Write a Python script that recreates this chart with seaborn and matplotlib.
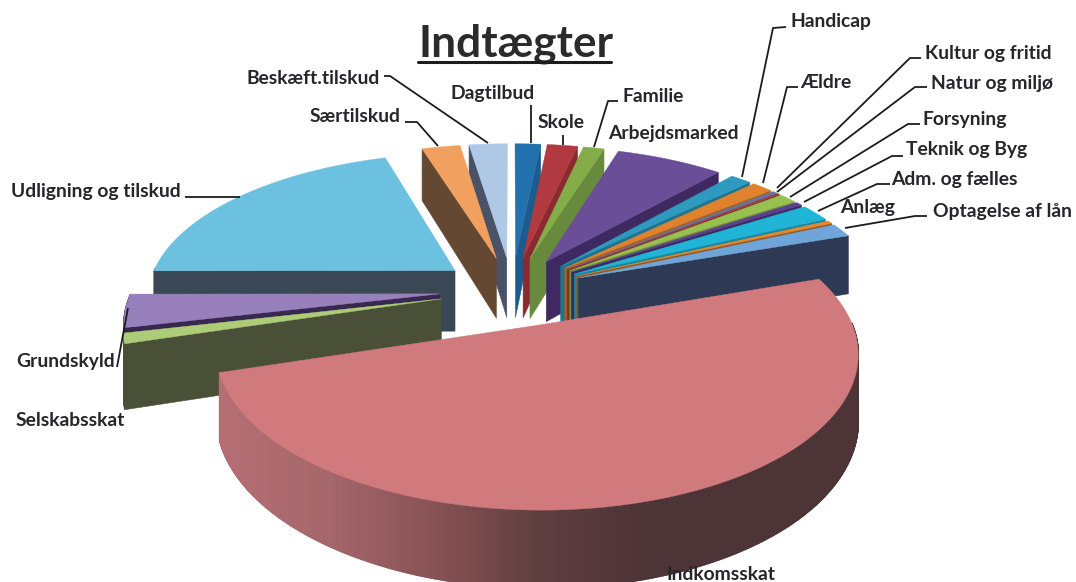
import numpy as np
import matplotlib
matplotlib.use("Agg")
import matplotlib.pyplot as plt
import seaborn as sns

# Slices, clockwise from 12 o'clock (percent of total)
categories = ["Dagtilbud", "Skole", "Familie", "Arbejdsmarked", "Handicap", "Ældre",
              "Kultur og fritid", "Natur og miljø", "Forsyning", "Teknik og Byg",
              "Adm. og fælles", "Anlæg", "Optagelse af lån", "Indkomsskat",
              "Selskabsskat", "Grundskyld", "Udligning og tilskud", "Særtilskud",
              "Beskæft.tilskud"]
values = [1.6, 1.9, 1.3, 6.7, 1.3, 1.3, 0.3, 0.15, 1.1, 0.4, 1.9, 0.35, 1.5,
          50.4, 1.1, 3.6, 20.2, 2.4, 2.4]

top_colors = ["#2371AE", "#B03A40", "#84AC48", "#6B4E98", "#2E9ABD", "#E0822C",
              "#6B72A6", "#A5443F", "#98C050", "#5B3F94", "#20B5D6", "#E8862C",
              "#6FA5D8", "#D07A7D", "#ADCC78", "#9780BC", "#6CC1E0", "#F2A05F",
              "#AEC8E6"]
wall_colors = ["#1C5B8E", "#8A2A30", "#688A3C", "#3E2A60", "#1E7490", "#A95F1E",
               "#4B5078", "#7A302C", "#6E8C3A", "#3B2A60", "#1887A0", "#8B5A2B",
               "#2E3A55", "#A36467", "#4A4F37", "#38284F", "#3A4755", "#654832",
               "#4A5268"]

# Camera for the fake 3D pie
cx, cy = 512, 290
rx, ry = 308, 143
persp = 0.168
explode = 0.235
explode_big = 0.25
radius_big = 0.985
depth = 62

# Label anchors (left x, centre y) and leader lines
label_pos = {
    "Dagtilbud": (450, 93), "Skole": (538, 122), "Familie": (622, 96),
    "Arbejdsmarked": (608, 133), "Handicap": (790, 22), "Ældre": (800, 83),
    "Kultur og fritid": (925, 53), "Natur og miljø": (931, 83), "Forsyning": (923, 120),
    "Teknik og Byg": (906, 150), "Adm. og fælles": (891, 179), "Anlæg": (840, 207),
    "Optagelse af lån": (933, 211), "Indkomsskat": (667, 574), "Selskabsskat": (16, 420),
    "Grundskyld": (16, 361), "Udligning og tilskud": (11, 191), "Særtilskud": (310, 117),
    "Beskæft.tilskud": (246, 78),
}
leaders = [
    [(786, 27), (773, 28), (742, 177)],
    [(798, 87), (787, 87), (763, 183)],
    [(921, 58), (910, 58), (777, 188)],
    [(927, 87), (915, 87), (777, 192)],
    [(920, 124), (908, 124), (790, 197)],
    [(903, 156), (892, 156), (804, 202)],
    [(890, 184), (877, 184), (818, 211)],
    [(927, 216), (915, 216), (845, 228)],
    [(618, 101), (608, 101), (594, 147)],
    [(563, 135), (563, 145)],
    [(531, 105), (531, 143)],
    [(405, 122), (417, 122), (438, 146)],
    [(384, 76), (390, 76), (488, 143)],
    [(185, 197), (240, 197)],
    [(117, 367), (128, 308)],
]


def project(x, y, z=0.0):
    w = 1 + persp * np.asarray(y)
    return cx + rx * np.asarray(x) / w, cy - ry * np.asarray(y) / w + depth * z / w


def quad(ax, x0, y0, x1, y1, color, zorder, lw=0.4):
    # side wall between two points on the top face
    sx0, sy0 = project(x0, y0)
    sx1, sy1 = project(x1, y1)
    bx0, by0 = project(x0, y0, 1.0)
    bx1, by1 = project(x1, y1, 1.0)
    ax.fill([sx0, sx1, bx1, bx0], [sy0, sy1, by1, by0], color=color, lw=lw, zorder=zorder)


sns.set_theme(style="white")
plt.rcParams["font.family"] = ["Lato", "DejaVu Sans"]

fig, ax = plt.subplots(figsize=(10.76, 5.82), dpi=100)
ax.set_position([0, 0, 1, 1])
ax.set_xlim(0, 1076)
ax.set_ylim(582, 0)
ax.axis("off")

edges = np.radians(np.cumsum([0] + values) / np.sum(values) * 360)
mids = (edges[:-1] + edges[1:]) / 2
order = np.argsort(-np.cos(mids))

big_wall = sns.blend_palette(["#B56E74", "#A5676B", "#885254", "#5F3E40", "#4D3436",
                              "#4D3436", "#4D3436"], 200)

for rank, i in enumerate(order):
    t0, t1 = edges[i], edges[i + 1]
    is_big = categories[i] == "Indkomsskat"
    e = explode_big if is_big else explode
    r = radius_big if is_big else 1.0
    ox, oy = e * np.sin(mids[i]), e * np.cos(mids[i])
    arc = np.linspace(t0, t1, max(int(np.degrees(t1 - t0) * 3), 2) + 1)
    ax_x = ox + r * np.sin(arc)
    ax_y = oy + r * np.cos(arc)
    z = rank * 2 + 1

    # radial walls, only the ones turned to the viewer
    if np.sin(t0) < 0:
        quad(ax, ox, oy, ax_x[0], ax_y[0], wall_colors[i], z)
    if np.sin(t1) > 0:
        quad(ax, ox, oy, ax_x[-1], ax_y[-1], wall_colors[i], z)

    # outer wall on the near half, shaded for the big slice
    for k in range(len(arc) - 1):
        if np.cos(arc[k]) < 0.02:
            if is_big:
                sx = project(ax_x[k], ax_y[k])[0]
                frac = np.clip((sx - 220) / (862 - 220), 0, 0.999)
                quad(ax, ax_x[k], ax_y[k], ax_x[k + 1], ax_y[k + 1], big_wall[int(frac * 200)], z, lw=1.2)
            else:
                quad(ax, ax_x[k], ax_y[k], ax_x[k + 1], ax_y[k + 1], wall_colors[i], z)

    px, py = project(np.r_[ox, ax_x], np.r_[oy, ax_y])
    ax.fill(px, py, color=top_colors[i], lw=0.3, zorder=z + 1)

for path in leaders:
    xs, ys = zip(*path)
    ax.plot(xs, ys, color="#1c1c1c", lw=1.3, zorder=100, solid_capstyle="butt")

for name in categories:
    lx, ly = label_pos[name]
    ax.text(lx, ly, name, fontsize=13.9, fontweight="bold", color="#26262b",
            ha="left", va="center", zorder=101)

ax.text(418, 44, "Indtægter", fontsize=31.8, fontweight="bold", color="#2b2b2b",
        ha="left", va="center", zorder=101)
ax.plot([418, 611], [62, 62], color="#1c1c1c", lw=2.2, zorder=101)

fig.savefig("out.png", dpi=100, facecolor="white")
